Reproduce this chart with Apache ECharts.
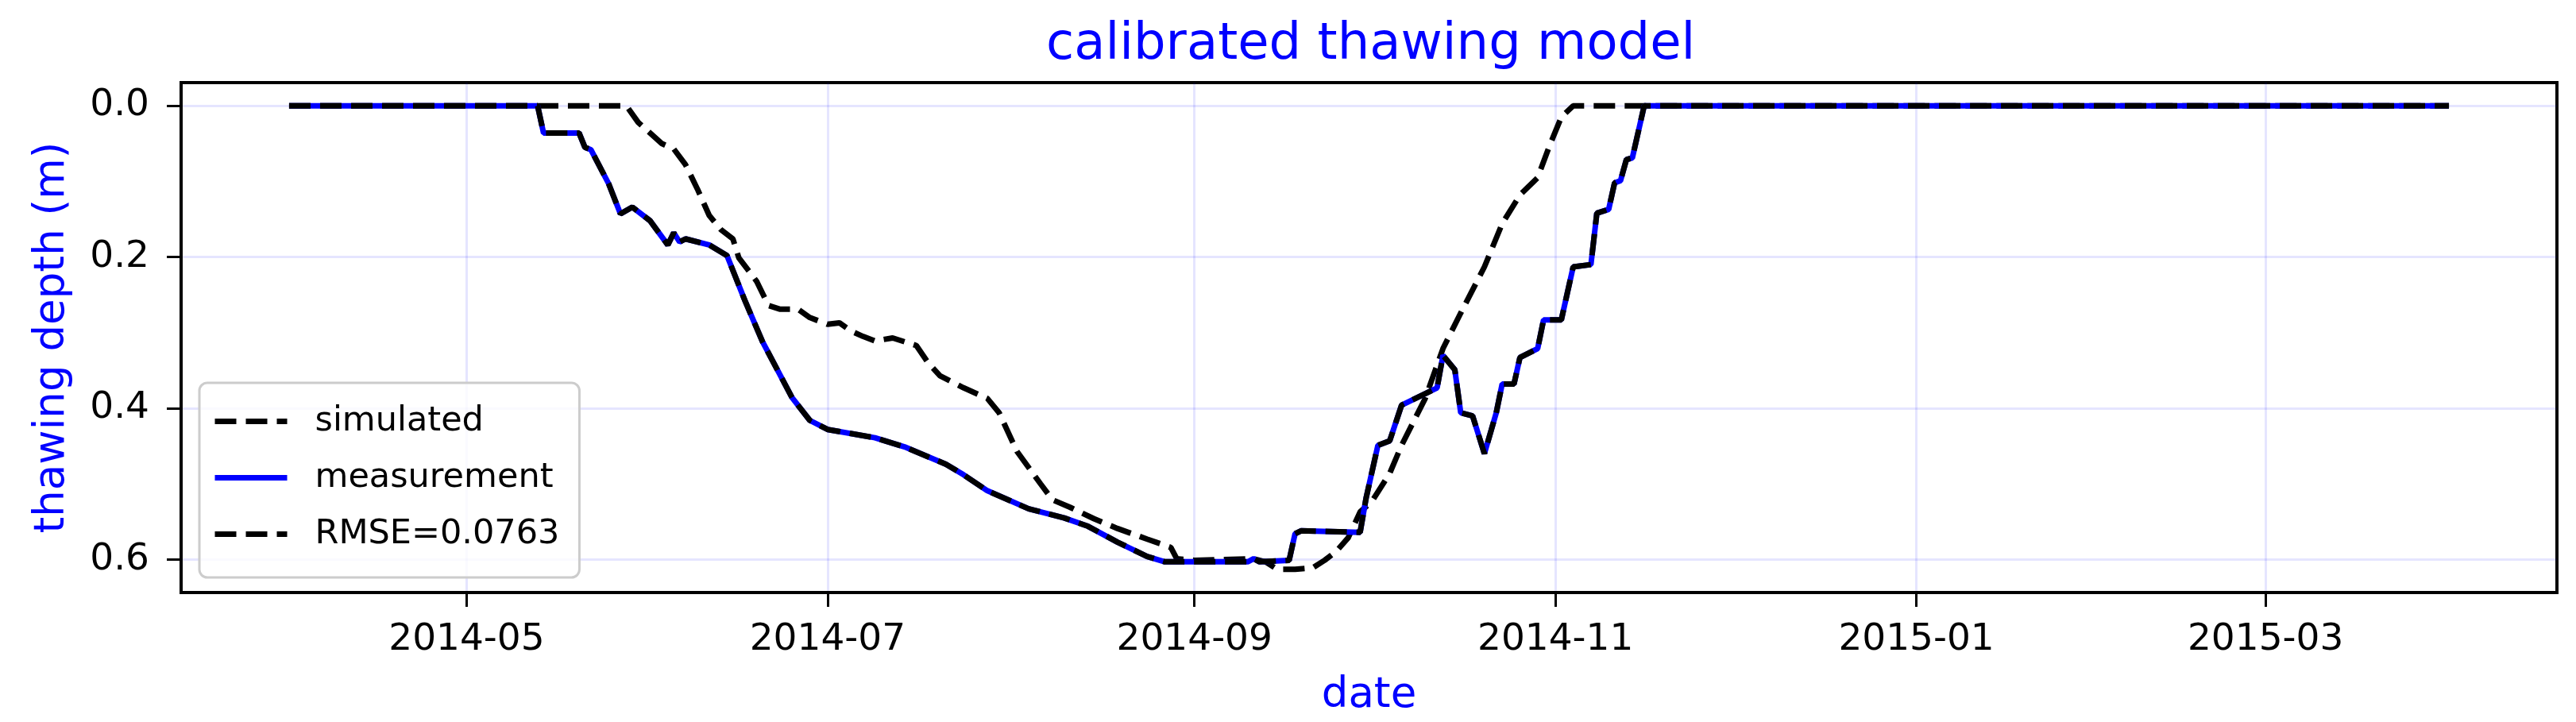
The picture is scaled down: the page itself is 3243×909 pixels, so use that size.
<!DOCTYPE html>
<html>
<head>
<meta charset="utf-8">
<script src="https://cdn.jsdelivr.net/npm/echarts@6/dist/echarts.min.js"></script>
<style>
  html, body { margin: 0; padding: 0; background: #fff; }
  #chart { width: 3243px; height: 909px; }
</style>
</head>
<body>
<div id="chart"></div>
<script>
const measDates = [
  '2014-04-01', '2014-05-13', '2014-05-14', '2014-05-20', '2014-05-21', '2014-05-22',
  '2014-05-25', '2014-05-27', '2014-05-29', '2014-06-01', '2014-06-04', '2014-06-05',
  '2014-06-06', '2014-06-07', '2014-06-11', '2014-06-14', '2014-06-17', '2014-06-20',
  '2014-06-25', '2014-06-28', '2014-07-01', '2014-07-09', '2014-07-14', '2014-07-21',
  '2014-07-24', '2014-07-28', '2014-08-04', '2014-08-10', '2014-08-14', '2014-08-19',
  '2014-08-24', '2014-08-27', '2014-09-03', '2014-09-10', '2014-09-11', '2014-09-12',
  '2014-09-17', '2014-09-18', '2014-09-19', '2014-09-29', '2014-09-30', '2014-10-02',
  '2014-10-04', '2014-10-06', '2014-10-12', '2014-10-13', '2014-10-15', '2014-10-16',
  '2014-10-18', '2014-10-20', '2014-10-22', '2014-10-23', '2014-10-25', '2014-10-26',
  '2014-10-29', '2014-10-30', '2014-11-02', '2014-11-04', '2014-11-07', '2014-11-08',
  '2014-11-10', '2014-11-11', '2014-11-12', '2014-11-13', '2014-11-14', '2014-11-16',
  '2015-04-01'
];
const measDepth = [
  0, 0, 0.036, 0.036, 0.055, 0.058,
  0.103, 0.143, 0.134, 0.152, 0.184, 0.168,
  0.180, 0.176, 0.184, 0.198, 0.257, 0.312,
  0.386, 0.416, 0.428, 0.439, 0.451, 0.474,
  0.488, 0.509, 0.533, 0.545, 0.556, 0.577,
  0.596, 0.603, 0.603, 0.603, 0.599, 0.603,
  0.601, 0.566, 0.562, 0.564, 0.519, 0.449,
  0.443, 0.396, 0.373, 0.330, 0.349, 0.406,
  0.410, 0.460, 0.406, 0.368, 0.368, 0.333,
  0.321, 0.283, 0.283, 0.213, 0.210, 0.142,
  0.137, 0.102, 0.099, 0.071, 0.069, 0,
  0
];

// simulated thawing depth (m)
const simDates = [
  '2014-04-01', '2014-05-28', '2014-05-30', '2014-06-02', '2014-06-03', '2014-06-05',
  '2014-06-07', '2014-06-09', '2014-06-11', '2014-06-13', '2014-06-15', '2014-06-16',
  '2014-06-19', '2014-06-21', '2014-06-23', '2014-06-26', '2014-06-28', '2014-07-01',
  '2014-07-03', '2014-07-05', '2014-07-07', '2014-07-09', '2014-07-12', '2014-07-16',
  '2014-07-18', '2014-07-20', '2014-07-24', '2014-07-28', '2014-07-30', '2014-08-02',
  '2014-08-06', '2014-08-08', '2014-08-11', '2014-08-15', '2014-08-19', '2014-08-24',
  '2014-08-28', '2014-08-29', '2014-09-01', '2014-09-11', '2014-09-13', '2014-09-15',
  '2014-09-18', '2014-09-21', '2014-09-23', '2014-09-25', '2014-09-27', '2014-09-29',
  '2014-10-01', '2014-10-04', '2014-10-06', '2014-10-10', '2014-10-13', '2014-10-16',
  '2014-10-20', '2014-10-23', '2014-10-26', '2014-10-29', '2014-10-31', '2014-11-02',
  '2014-11-04', '2015-04-01'
];
const simDepth = [
  0, 0, 0.022, 0.043, 0.050, 0.057,
  0.078, 0.110, 0.145, 0.164, 0.176, 0.201,
  0.232, 0.264, 0.269, 0.269, 0.280, 0.289,
  0.287, 0.298, 0.305, 0.311, 0.307, 0.317,
  0.340, 0.357, 0.373, 0.387, 0.406, 0.457,
  0.500, 0.521, 0.531, 0.546, 0.559, 0.573,
  0.584, 0.599, 0.601, 0.599, 0.603, 0.613,
  0.613, 0.611, 0.601, 0.589, 0.571, 0.537,
  0.523, 0.486, 0.449, 0.387, 0.321, 0.274,
  0.213, 0.156, 0.118, 0.095, 0.053, 0.015,
  0, 0
];

const xTickDates = ['2014-05-01', '2014-07-01', '2014-09-01', '2014-11-01', '2015-01-01', '2015-03-01'];
const yTickValues = [0, 0.2, 0.4, 0.6];
const rmseLabel = 'RMSE=0.0763';

const FONT = 'DejaVu Sans';

function toTime(s) {
  const [y, m, d] = s.split('-').map(Number);
  return Date.UTC(y, m - 1, d);
}

function pairs(dates, values) {
  return dates.map((d, i) => [toTime(d), values[i]]);
}

const measData = pairs(measDates, measDepth);
const simData = pairs(simDates, simDepth);
const xTicks = xTickDates.map(toTime);

// matplotlib style 5% margins
const xStart = toTime(measDates[0]);
const xEnd = toTime(measDates[measDates.length - 1]);
const xPad = (xEnd - xStart) * 0.05;
const yMaxData = Math.max(...simDepth, ...measDepth);
const yPad = yMaxData * 0.05;

const dashed = [27, 12];

const chart = echarts.init(document.getElementById('chart'));
chart.setOption({
  animation: false,
  backgroundColor: '#fff',
  textStyle: { fontFamily: FONT },
  title: {
    text: 'calibrated thawing model',
    left: 1312,
    top: 20,
    textStyle: { color: '#0000ff', fontSize: 64, fontWeight: 'normal', fontFamily: FONT },
  },
  grid: {
    left: 228,
    right: 24,
    top: 104,
    bottom: 163,
    show: true,
    borderColor: '#000',
    borderWidth: 4,
    backgroundColor: 'transparent',
  },
  legend: {
    orient: 'vertical',
    left: 251,
    top: 482,
    padding: [27, 25, 33, 16],
    itemWidth: 91,
    itemHeight: 20,
    itemGap: 28,
    backgroundColor: 'rgba(255,255,255,0.8)',
    borderColor: '#cccccc',
    borderWidth: 3,
    borderRadius: 10,
    itemStyle: { opacity: 0 },
    lineStyle: { width: 7 },
    textStyle: { fontSize: 43, color: '#000', fontFamily: FONT, padding: [0, 0, 0, 30] },
    data: ['simulated', 'measurement', rmseLabel],
  },
  xAxis: {
    type: 'value',
    min: xStart - xPad,
    max: xEnd + xPad,
    name: 'date',
    nameLocation: 'middle',
    nameGap: 104,
    nameTextStyle: { color: '#0000ff', fontSize: 53, fontFamily: FONT },
    axisLine: { show: true, onZero: false, lineStyle: { color: '#000', width: 4 } },
    axisTick: { show: true, length: 18, lineStyle: { color: '#000', width: 3 }, customValues: xTicks },
    axisLabel: {
      customValues: xTicks,
      fontSize: 47,
      color: '#000',
      fontFamily: FONT,
      margin: 36,
      formatter: (v) => {
        const d = new Date(v);
        return d.getUTCFullYear() + '-' + String(d.getUTCMonth() + 1).padStart(2, '0');
      },
    },
    splitLine: { show: true, lineStyle: { color: 'rgba(0,0,255,0.1)', width: 3 } },
  },
  yAxis: {
    type: 'value',
    inverse: true,
    min: -yPad,
    max: yMaxData + yPad,
    name: 'thawing depth (m)',
    nameLocation: 'middle',
    nameRotate: 90,
    nameGap: 135,
    nameTextStyle: { color: '#0000ff', fontSize: 53, fontFamily: FONT },
    axisLine: { show: true, onZero: false, lineStyle: { color: '#000', width: 4 } },
    axisTick: { show: true, length: 18, lineStyle: { color: '#000', width: 3 }, customValues: yTickValues },
    axisLabel: {
      customValues: yTickValues,
      fontSize: 47,
      color: '#000',
      fontFamily: FONT,
      margin: 40,
      formatter: (v) => v.toFixed(1),
    },
    splitLine: { show: true, lineStyle: { color: 'rgba(0,0,255,0.1)', width: 3 } },
  },
  series: [
    {
      name: 'simulated',
      type: 'line',
      data: simData,
      symbol: 'none',
      color: '#000',
      lineStyle: { color: '#000', width: 7, type: dashed },
    },
    {
      name: 'measurement',
      type: 'line',
      data: measData,
      symbol: 'none',
      color: '#0000ff',
      lineStyle: { color: '#0000ff', width: 7 },
    },
    {
      name: rmseLabel,
      type: 'line',
      data: measData,
      symbol: 'none',
      color: '#000',
      lineStyle: { color: '#000', width: 7, type: dashed },
    },
  ],
});
</script>
</body>
</html>
